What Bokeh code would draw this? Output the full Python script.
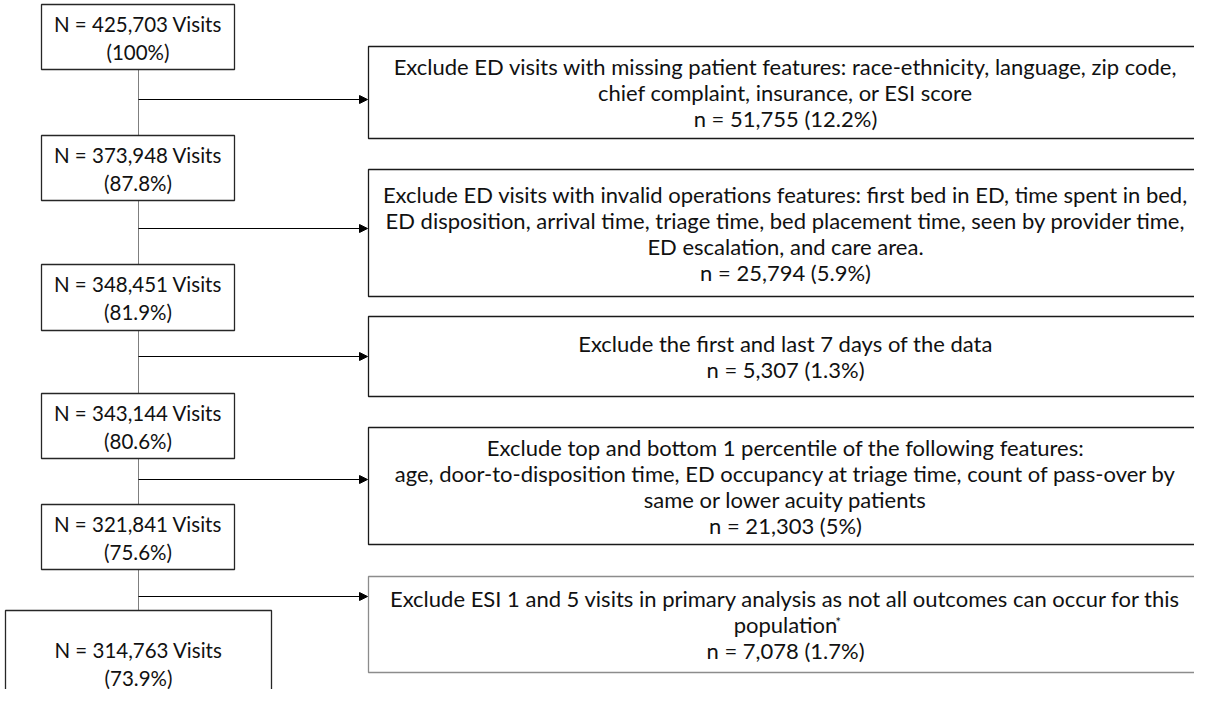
from bokeh.plotting import figure
from bokeh.models import Range1d, Arrow, NormalHead
from bokeh.core.properties import value
from bokeh.embed import file_html
from bokeh.resources import INLINE

# ---------------- data ----------------
totals = [425703, 373948, 348451, 343144, 321841, 314763]
total_pcts = ["100%", "87.8%", "81.9%", "80.6%", "75.6%", "73.9%"]

excl_desc = [
    ["Exclude ED visits with missing patient features: race-ethnicity, language, zip code,",
     "chief complaint, insurance, or ESI score"],
    ["Exclude ED visits with invalid operations features: first bed in ED, time spent in bed,",
     "ED disposition, arrival time, triage time, bed placement time, seen by provider time,",
     "ED escalation, and care area."],
    ["Exclude the first and last 7 days of the data"],
    ["Exclude top and bottom 1 percentile of the following features:",
     "age, door-to-disposition time, ED occupancy at triage time, count of pass-over by",
     "same or lower acuity patients"],
    ["Exclude ESI 1 and 5 visits in primary analysis as not all outcomes can occur for this",
     "population"],
]
excl_n = [51755, 25794, 5307, 21303, 7078]
excl_pct = ["12.2%", "5.9%", "1.3%", "5%", "1.7%"]

# ---------------- layout (pixel units) ----------------
L_left = [49, 49, 49, 49, 49, 13]
L_right = [242, 242, 242, 242, 242, 279]
L_top = [12, 143, 272, 401, 512, 618]
L_bot = [77, 208, 338, 466, 577, 760]
L_text_c = [45, 176, 305, 434, 545, 671]

R_left, R_right = 376, 1215
R_top = [54, 177, 324, 435, 584]
R_bot = [146, 304, 404, 552, 680]
R_col = ["#1a1a1a", "#1a1a1a", "#1a1a1a", "#1a1a1a", "#8c8c8c"]
arrow_y = [107, 236, 364, 487, 604]
spine_x = 146
line_h = 26
FONT = "Lato"
FS_L = "20.5px"
FS_R = "22px"

p = figure(width=1194, height=689, output_backend="svg", toolbar_location=None,
           x_range=Range1d(8, 1202), y_range=Range1d(697, 8), min_border=0)
p.axis.visible = False
p.grid.visible = False
p.outline_line_color = None
p.background_fill_color = "white"

# spine segments between boxes
for i in range(len(totals) - 1):
    p.segment(x0=[spine_x], y0=[L_bot[i]], x1=[spine_x], y1=[L_top[i + 1]],
              line_color="#7f7f7f", line_width=1)

# left boxes
p.quad(left=L_left, right=L_right, top=L_top, bottom=L_bot,
       fill_color="white", line_color="#262626", line_width=1.3)
l1 = [f"N = {n:,} Visits" for n in totals]
l2 = [f"({s})" for s in total_pcts]
lcx = [(a + b) / 2 for a, b in zip(L_left, L_right)]
p.text(x=lcx, y=[c - 14 for c in L_text_c], text=l1,
       text_align="center", text_baseline="middle", text_font=value(FONT),
       text_font_size=FS_L, text_color="#111111")
p.text(x=lcx, y=[c + 14 for c in L_text_c], text=l2,
       text_align="center", text_baseline="middle", text_font=value(FONT),
       text_font_size=FS_L, text_color="#111111")

# right boxes
p.quad(left=[R_left] * 5, right=[R_right] * 5, top=R_top, bottom=R_bot,
       fill_color="white", line_color=R_col, line_width=1.3)
cx = (R_left + 1210) / 2
xs, ys, ts = [], [], []
for i, desc in enumerate(excl_desc):
    lines = desc + [f"n = {excl_n[i]:,} ({excl_pct[i]})"]
    cy = (R_top[i] + R_bot[i]) / 2
    y0 = cy - (len(lines) - 1) * line_h / 2
    for k, t in enumerate(lines):
        xs.append(cx)
        ys.append(y0 + k * line_h)
        ts.append(t)
p.text(x=xs, y=ys, text=ts, text_align="center", text_baseline="middle",
       text_font=value(FONT), text_font_size=FS_R, text_color="#111111")
# superscript asterisk after "population"
cy5 = (R_top[4] + R_bot[4]) / 2
p.text(x=[cx + 50], y=[cy5 - 3], text=["*"], text_align="left", text_baseline="middle",
       text_font=value(FONT), text_font_size="13px", text_color="#111111")

# arrows
for y in arrow_y:
    p.add_layout(Arrow(end=NormalHead(size=8, fill_color="black", line_color="black", line_width=1),
                       x_start=spine_x, y_start=y, x_end=R_left - 1, y_end=y,
                       line_color="black", line_width=1))

open("out.html", "w").write(file_html(p, INLINE))
